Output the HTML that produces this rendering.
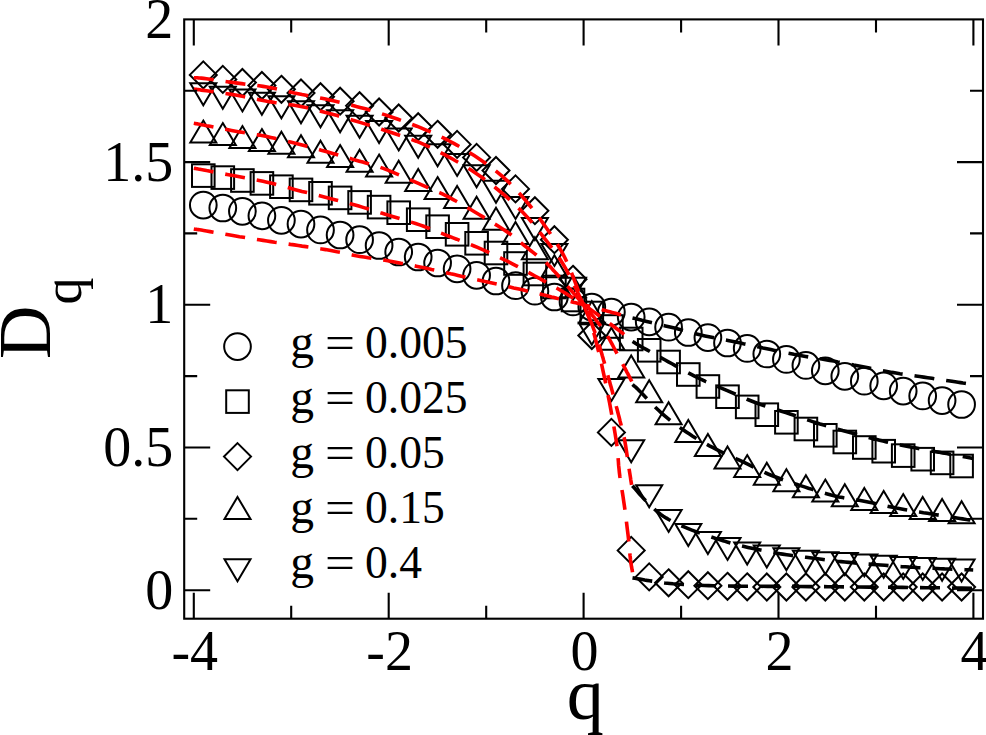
<!DOCTYPE html>
<html><head><meta charset="utf-8"><style>html,body{margin:0;padding:0;background:#fff;overflow:hidden}svg{display:block}</style></head><body>
<svg width="986" height="735" viewBox="0 0 986 735">
<rect width="986" height="735" fill="#fff"/>
<g fill="none" stroke="#000" stroke-width="2.0" stroke-linejoin="miter">
<circle cx="203.3" cy="205.1" r="13.35"/>
<circle cx="222.8" cy="208.0" r="13.35"/>
<circle cx="242.4" cy="211.3" r="13.35"/>
<circle cx="261.9" cy="215.8" r="13.35"/>
<circle cx="281.4" cy="220.3" r="13.35"/>
<circle cx="301.0" cy="224.1" r="13.35"/>
<circle cx="320.5" cy="229.9" r="13.35"/>
<circle cx="340.1" cy="235.0" r="13.35"/>
<circle cx="359.6" cy="239.7" r="13.35"/>
<circle cx="379.1" cy="245.5" r="13.35"/>
<circle cx="398.7" cy="252.0" r="13.35"/>
<circle cx="418.2" cy="257.0" r="13.35"/>
<circle cx="437.6" cy="263.0" r="13.35"/>
<circle cx="457.1" cy="268.8" r="13.35"/>
<circle cx="476.6" cy="275.3" r="13.35"/>
<circle cx="496.0" cy="281.0" r="13.35"/>
<circle cx="515.5" cy="285.7" r="13.35"/>
<circle cx="534.9" cy="291.2" r="13.35"/>
<circle cx="554.4" cy="297.0" r="13.35"/>
<circle cx="573.0" cy="301.9" r="13.35"/>
<circle cx="591.8" cy="307.0" r="13.35"/>
<circle cx="611.4" cy="312.1" r="13.35"/>
<circle cx="631.2" cy="317.1" r="13.35"/>
<circle cx="649.2" cy="321.8" r="13.35"/>
<circle cx="668.6" cy="327.2" r="13.35"/>
<circle cx="688.3" cy="332.5" r="13.35"/>
<circle cx="707.9" cy="337.6" r="13.35"/>
<circle cx="727.5" cy="343.0" r="13.35"/>
<circle cx="747.2" cy="348.4" r="13.35"/>
<circle cx="766.8" cy="354.0" r="13.35"/>
<circle cx="786.4" cy="359.4" r="13.35"/>
<circle cx="805.9" cy="365.4" r="13.35"/>
<circle cx="825.3" cy="370.8" r="13.35"/>
<circle cx="844.8" cy="376.3" r="13.35"/>
<circle cx="864.3" cy="381.2" r="13.35"/>
<circle cx="883.7" cy="385.8" r="13.35"/>
<circle cx="903.2" cy="391.1" r="13.35"/>
<circle cx="922.7" cy="395.9" r="13.35"/>
<circle cx="942.1" cy="400.6" r="13.35"/>
<circle cx="961.6" cy="404.5" r="13.35"/>
<rect x="192.0" y="164.3" width="22.6" height="22.6"/>
<rect x="211.5" y="166.3" width="22.6" height="22.6"/>
<rect x="231.1" y="169.2" width="22.6" height="22.6"/>
<rect x="250.6" y="172.1" width="22.6" height="22.6"/>
<rect x="270.1" y="175.4" width="22.6" height="22.6"/>
<rect x="289.7" y="178.6" width="22.6" height="22.6"/>
<rect x="309.2" y="182.0" width="22.6" height="22.6"/>
<rect x="328.8" y="186.6" width="22.6" height="22.6"/>
<rect x="348.3" y="191.1" width="22.6" height="22.6"/>
<rect x="367.8" y="195.8" width="22.6" height="22.6"/>
<rect x="387.4" y="201.4" width="22.6" height="22.6"/>
<rect x="406.9" y="208.4" width="22.6" height="22.6"/>
<rect x="426.3" y="215.4" width="22.6" height="22.6"/>
<rect x="445.8" y="223.0" width="22.6" height="22.6"/>
<rect x="465.3" y="232.0" width="22.6" height="22.6"/>
<rect x="484.7" y="241.7" width="22.6" height="22.6"/>
<rect x="504.2" y="252.2" width="22.6" height="22.6"/>
<rect x="523.6" y="262.7" width="22.6" height="22.6"/>
<rect x="543.1" y="275.7" width="22.6" height="22.6"/>
<rect x="561.7" y="288.7" width="22.6" height="22.6"/>
<rect x="580.5" y="301.7" width="22.6" height="22.6"/>
<rect x="600.1" y="315.2" width="22.6" height="22.6"/>
<rect x="619.9" y="327.7" width="22.6" height="22.6"/>
<rect x="637.9" y="339.0" width="22.6" height="22.6"/>
<rect x="657.3" y="350.7" width="22.6" height="22.6"/>
<rect x="677.0" y="363.2" width="22.6" height="22.6"/>
<rect x="696.6" y="375.2" width="22.6" height="22.6"/>
<rect x="716.2" y="385.4" width="22.6" height="22.6"/>
<rect x="735.9" y="395.6" width="22.6" height="22.6"/>
<rect x="755.5" y="403.4" width="22.6" height="22.6"/>
<rect x="775.1" y="411.0" width="22.6" height="22.6"/>
<rect x="794.6" y="417.7" width="22.6" height="22.6"/>
<rect x="814.0" y="424.0" width="22.6" height="22.6"/>
<rect x="833.5" y="430.7" width="22.6" height="22.6"/>
<rect x="853.0" y="436.2" width="22.6" height="22.6"/>
<rect x="872.4" y="439.9" width="22.6" height="22.6"/>
<rect x="891.9" y="444.3" width="22.6" height="22.6"/>
<rect x="911.4" y="447.9" width="22.6" height="22.6"/>
<rect x="930.8" y="451.6" width="22.6" height="22.6"/>
<rect x="950.3" y="454.7" width="22.6" height="22.6"/>
<path d="M203.3 61.4L216.8 74.9L203.3 88.4L189.8 74.9Z"/>
<path d="M222.8 65.9L236.3 79.4L222.8 92.9L209.3 79.4Z"/>
<path d="M242.4 69.0L255.9 82.5L242.4 96.0L228.9 82.5Z"/>
<path d="M261.9 72.0L275.4 85.5L261.9 99.0L248.4 85.5Z"/>
<path d="M281.4 75.8L294.9 89.3L281.4 102.8L267.9 89.3Z"/>
<path d="M301.0 79.5L314.5 93.0L301.0 106.5L287.5 93.0Z"/>
<path d="M320.5 83.2L334.0 96.7L320.5 110.2L307.0 96.7Z"/>
<path d="M340.1 87.7L353.6 101.2L340.1 114.7L326.6 101.2Z"/>
<path d="M359.6 92.2L373.1 105.7L359.6 119.2L346.1 105.7Z"/>
<path d="M379.1 98.5L392.6 112.0L379.1 125.5L365.6 112.0Z"/>
<path d="M398.7 104.5L412.2 118.0L398.7 131.5L385.2 118.0Z"/>
<path d="M418.2 113.2L431.7 126.7L418.2 140.2L404.7 126.7Z"/>
<path d="M437.6 120.8L451.1 134.3L437.6 147.8L424.1 134.3Z"/>
<path d="M457.1 130.9L470.6 144.4L457.1 157.9L443.6 144.4Z"/>
<path d="M476.6 143.9L490.1 157.4L476.6 170.9L463.1 157.4Z"/>
<path d="M496.0 157.0L509.5 170.5L496.0 184.0L482.5 170.5Z"/>
<path d="M515.5 175.4L529.0 188.9L515.5 202.4L502.0 188.9Z"/>
<path d="M534.9 197.2L548.4 210.7L534.9 224.2L521.4 210.7Z"/>
<path d="M554.4 226.2L567.9 239.7L554.4 253.2L540.9 239.7Z"/>
<path d="M573.0 265.8L586.5 279.3L573.0 292.8L559.5 279.3Z"/>
<path d="M591.8 322.0L605.3 335.5L591.8 349.0L578.3 335.5Z"/>
<path d="M611.4 418.9L624.9 432.4L611.4 445.9L597.9 432.4Z"/>
<path d="M631.2 536.9L644.7 550.4L631.2 563.9L617.7 550.4Z"/>
<path d="M649.2 563.4L662.7 576.9L649.2 590.4L635.7 576.9Z"/>
<path d="M668.6 569.3L682.1 582.8L668.6 596.3L655.1 582.8Z"/>
<path d="M688.3 571.2L701.8 584.7L688.3 598.2L674.8 584.7Z"/>
<path d="M707.9 572.2L721.4 585.7L707.9 599.2L694.4 585.7Z"/>
<path d="M727.5 572.8L741.0 586.3L727.5 599.8L714.0 586.3Z"/>
<path d="M747.2 573.3L760.7 586.8L747.2 600.3L733.7 586.8Z"/>
<path d="M766.8 573.5L780.3 587.0L766.8 600.5L753.3 587.0Z"/>
<path d="M786.4 573.5L799.9 587.0L786.4 600.5L772.9 587.0Z"/>
<path d="M805.9 573.5L819.4 587.0L805.9 600.5L792.4 587.0Z"/>
<path d="M825.3 573.5L838.8 587.0L825.3 600.5L811.8 587.0Z"/>
<path d="M844.8 573.5L858.3 587.0L844.8 600.5L831.3 587.0Z"/>
<path d="M864.3 573.5L877.8 587.0L864.3 600.5L850.8 587.0Z"/>
<path d="M883.7 573.5L897.2 587.0L883.7 600.5L870.2 587.0Z"/>
<path d="M903.2 573.5L916.7 587.0L903.2 600.5L889.7 587.0Z"/>
<path d="M922.7 573.5L936.2 587.0L922.7 600.5L909.2 587.0Z"/>
<path d="M942.1 573.5L955.6 587.0L942.1 600.5L928.6 587.0Z"/>
<path d="M961.6 573.5L975.1 587.0L961.6 600.5L948.1 587.0Z"/>
<path d="M203.3 120.6L216.3 142.6L190.3 142.6Z"/>
<path d="M222.8 123.1L235.8 145.1L209.8 145.1Z"/>
<path d="M242.4 126.1L255.4 148.1L229.4 148.1Z"/>
<path d="M261.9 129.1L274.9 151.1L248.9 151.1Z"/>
<path d="M281.4 131.8L294.4 153.8L268.4 153.8Z"/>
<path d="M301.0 135.2L314.0 157.2L288.0 157.2Z"/>
<path d="M320.5 140.7L333.5 162.7L307.5 162.7Z"/>
<path d="M340.1 145.1L353.1 167.1L327.1 167.1Z"/>
<path d="M359.6 149.8L372.6 171.8L346.6 171.8Z"/>
<path d="M379.1 154.6L392.1 176.6L366.1 176.6Z"/>
<path d="M398.7 160.8L411.7 182.8L385.7 182.8Z"/>
<path d="M418.2 168.9L431.2 190.9L405.2 190.9Z"/>
<path d="M437.6 177.1L450.6 199.1L424.6 199.1Z"/>
<path d="M457.1 186.0L470.1 208.0L444.1 208.0Z"/>
<path d="M476.6 196.8L489.6 218.8L463.6 218.8Z"/>
<path d="M496.0 207.8L509.0 229.8L483.0 229.8Z"/>
<path d="M515.5 221.9L528.5 243.9L502.5 243.9Z"/>
<path d="M534.9 237.3L547.9 259.3L521.9 259.3Z"/>
<path d="M554.4 255.3L567.4 277.3L541.4 277.3Z"/>
<path d="M573.0 275.3L586.0 297.3L560.0 297.3Z"/>
<path d="M591.8 301.3L604.8 323.3L578.8 323.3Z"/>
<path d="M611.4 327.8L624.4 349.8L598.4 349.8Z"/>
<path d="M631.2 355.4L644.2 377.4L618.2 377.4Z"/>
<path d="M649.2 380.3L662.2 402.3L636.2 402.3Z"/>
<path d="M668.6 402.2L681.6 424.2L655.6 424.2Z"/>
<path d="M688.3 419.9L701.3 441.9L675.3 441.9Z"/>
<path d="M707.9 433.9L720.9 455.9L694.9 455.9Z"/>
<path d="M727.5 446.5L740.5 468.5L714.5 468.5Z"/>
<path d="M747.2 455.1L760.2 477.1L734.2 477.1Z"/>
<path d="M766.8 462.8L779.8 484.8L753.8 484.8Z"/>
<path d="M786.4 469.3L799.4 491.3L773.4 491.3Z"/>
<path d="M805.9 475.2L818.9 497.2L792.9 497.2Z"/>
<path d="M825.3 479.6L838.3 501.6L812.3 501.6Z"/>
<path d="M844.8 484.3L857.8 506.3L831.8 506.3Z"/>
<path d="M864.3 487.9L877.3 509.9L851.3 509.9Z"/>
<path d="M883.7 490.9L896.7 512.9L870.7 512.9Z"/>
<path d="M903.2 494.1L916.2 516.1L890.2 516.1Z"/>
<path d="M922.7 496.9L935.7 518.9L909.7 518.9Z"/>
<path d="M942.1 499.0L955.1 521.0L929.1 521.0Z"/>
<path d="M961.6 501.3L974.6 523.3L948.6 523.3Z"/>
<path d="M203.3 105.3L216.3 83.3L190.3 83.3Z"/>
<path d="M222.8 108.7L235.8 86.7L209.8 86.7Z"/>
<path d="M242.4 111.4L255.4 89.4L229.4 89.4Z"/>
<path d="M261.9 114.8L274.9 92.8L248.9 92.8Z"/>
<path d="M281.4 118.2L294.4 96.2L268.4 96.2Z"/>
<path d="M301.0 123.2L314.0 101.2L288.0 101.2Z"/>
<path d="M320.5 127.2L333.5 105.2L307.5 105.2Z"/>
<path d="M340.1 132.3L353.1 110.3L327.1 110.3Z"/>
<path d="M359.6 137.7L372.6 115.7L346.6 115.7Z"/>
<path d="M379.1 143.1L392.1 121.1L366.1 121.1Z"/>
<path d="M398.7 150.4L411.7 128.4L385.7 128.4Z"/>
<path d="M418.2 157.7L431.2 135.7L405.2 135.7Z"/>
<path d="M437.6 166.2L450.6 144.2L424.6 144.2Z"/>
<path d="M457.1 175.9L470.1 153.9L444.1 153.9Z"/>
<path d="M476.6 187.2L489.6 165.2L463.6 165.2Z"/>
<path d="M496.0 202.7L509.0 180.7L483.0 180.7Z"/>
<path d="M515.5 218.9L528.5 196.9L502.5 196.9Z"/>
<path d="M534.9 240.0L547.9 218.0L521.9 218.0Z"/>
<path d="M554.4 265.9L567.4 243.9L541.4 243.9Z"/>
<path d="M573.0 299.7L586.0 277.7L560.0 277.7Z"/>
<path d="M591.8 344.7L604.8 322.7L578.8 322.7Z"/>
<path d="M611.4 400.9L624.4 378.9L598.4 378.9Z"/>
<path d="M631.2 462.2L644.2 440.2L618.2 440.2Z"/>
<path d="M649.2 507.2L662.2 485.2L636.2 485.2Z"/>
<path d="M668.6 531.9L681.6 509.9L655.6 509.9Z"/>
<path d="M688.3 546.0L701.3 524.0L675.3 524.0Z"/>
<path d="M707.9 554.1L720.9 532.1L694.9 532.1Z"/>
<path d="M727.5 559.9L740.5 537.9L714.5 537.9Z"/>
<path d="M747.2 564.6L760.2 542.6L734.2 542.6Z"/>
<path d="M766.8 567.5L779.8 545.5L753.8 545.5Z"/>
<path d="M786.4 570.3L799.4 548.3L773.4 548.3Z"/>
<path d="M805.9 572.8L818.9 550.8L792.9 550.8Z"/>
<path d="M825.3 574.2L838.3 552.2L812.3 552.2Z"/>
<path d="M844.8 575.1L857.8 553.1L831.8 553.1Z"/>
<path d="M864.3 576.4L877.3 554.4L851.3 554.4Z"/>
<path d="M883.7 577.7L896.7 555.7L870.7 555.7Z"/>
<path d="M903.2 578.9L916.2 556.9L890.2 556.9Z"/>
<path d="M922.7 579.9L935.7 557.9L909.7 557.9Z"/>
<path d="M942.1 580.8L955.1 558.8L929.1 558.8Z"/>
<path d="M961.6 581.5L974.6 559.5L948.6 559.5Z"/>
</g>
<g fill="none" stroke-width="3.6" stroke-dasharray="20 12">
<polyline stroke="#f00" points="193.8,229.0 194.9,229.2 195.7,229.3 196.5,229.4 197.3,229.5 198.3,229.6 199.6,229.8 201.3,230.1 203.6,230.5 206.5,231.0 210.1,231.6 214.0,232.3 218.3,233.0 222.7,233.8 227.1,234.6 231.5,235.3 235.6,236.0 239.5,236.7 243.5,237.3 247.4,237.9 251.3,238.6 255.2,239.2 259.1,239.8 263.0,240.4 266.9,241.0 270.8,241.6 274.7,242.2 278.6,242.7 282.5,243.3 286.5,243.8 290.4,244.4 294.3,244.9 298.2,245.5 302.1,246.1 306.0,246.6 310.0,247.2 313.9,247.8 317.8,248.4 321.7,249.0 325.6,249.6 329.5,250.3 333.3,251.0 337.1,251.8 340.9,252.5 344.6,253.3 348.4,254.1 352.2,254.9 356.1,255.7 360.0,256.4 364.0,257.1 368.2,257.8 372.4,258.4 376.6,259.1 380.8,259.7 385.0,260.3 389.2,261.0 393.2,261.7 397.1,262.4 401.0,263.2 404.9,263.9 408.7,264.7 412.4,265.4 416.2,266.2 420.0,267.0 423.8,267.8 427.6,268.6 431.5,269.5 435.4,270.3 439.3,271.2 443.2,272.1 447.0,272.9 450.7,273.8 454.4,274.6 458.0,275.4 461.4,276.2 464.8,276.9 468.1,277.7 471.5,278.4 474.8,279.2 478.2,279.9 481.6,280.7 485.1,281.5 488.6,282.2 492.1,283.0 495.6,283.8 499.2,284.6 502.8,285.4 506.4,286.2 510.0,287.0 513.7,287.9 517.6,288.7 521.5,289.6 525.4,290.6 529.3,291.5 533.0,292.3 536.6,293.2 540.0,294.0 543.1,294.8 546.1,295.5 548.9,296.2 551.5,296.9 554.1,297.5 556.7,298.2 559.3,298.8 562.0,299.5 564.7,300.2 567.5,300.8 570.2,301.5 573.0,302.2 575.7,302.8 578.4,303.5 581.0,304.1 583.6,304.8 586.1,305.5 588.6,306.1 591.1,306.8 593.5,307.4 595.9,308.1 598.3,308.7 600.7,309.4 603.0,310.0 605.3,310.6 607.6,311.2 609.9,311.8 612.1,312.4 614.3,313.0 616.5,313.6 618.8,314.2 621.0,314.8"/>
<polyline stroke="#f00" points="193.8,168.2 194.9,168.4 195.7,168.5 196.5,168.7 197.3,168.8 198.3,169.0 199.6,169.2 201.3,169.6 203.6,170.0 206.5,170.6 210.1,171.2 214.0,172.0 218.3,172.8 222.7,173.6 227.1,174.5 231.5,175.3 235.6,176.1 239.5,176.8 243.5,177.6 247.4,178.3 251.3,179.0 255.2,179.8 259.1,180.5 263.0,181.3 266.9,182.2 270.8,183.1 274.8,184.1 278.7,185.2 282.6,186.2 286.6,187.3 290.5,188.3 294.4,189.4 298.2,190.4 302.0,191.4 305.8,192.3 309.5,193.2 313.2,194.2 316.9,195.1 320.6,196.0 324.3,196.9 328.1,197.9 331.9,198.9 335.8,199.9 339.7,200.9 343.6,202.0 347.5,203.0 351.3,204.0 355.1,205.1 358.7,206.1 362.2,207.1 365.4,208.1 368.6,209.0 371.7,210.0 374.9,211.0 378.1,212.0 381.5,213.1 385.2,214.2 389.2,215.4 393.4,216.7 397.8,218.0 402.2,219.3 406.7,220.7 411.2,222.1 415.6,223.5 419.7,224.9 423.7,226.3 427.5,227.8 431.3,229.2 435.1,230.7 438.7,232.2 442.4,233.6 446.0,235.1 449.6,236.5 453.2,237.9 456.7,239.2 460.2,240.6 463.7,241.9 467.2,243.2 470.6,244.6 474.0,246.0 477.5,247.4 480.9,248.9 484.3,250.4 487.7,251.9 491.1,253.4 494.5,255.0 498.0,256.6 501.4,258.3 505.0,260.0 508.7,261.9 512.4,263.8 516.3,265.8 520.2,267.9 524.0,270.0 527.8,272.1 531.5,274.1 535.0,276.0 538.4,277.8 541.6,279.6 544.8,281.4 547.9,283.1 550.9,284.8 554.0,286.5 557.0,288.2 560.0,290.0 563.0,291.8 566.1,293.6 569.0,295.5 572.0,297.3 575.0,299.2 577.9,301.1 580.8,302.9 583.6,304.8 586.4,306.7 589.2,308.6 591.9,310.5 594.6,312.4 597.2,314.3 599.9,316.2 602.4,318.1 605.0,320.0 607.5,321.8 610.0,323.7 612.4,325.5 614.7,327.2 617.1,329.0 619.5,330.8 621.8,332.6 624.2,334.4"/>
<polyline stroke="#f00" points="193.8,77.7 194.9,77.8 195.7,77.8 196.5,77.8 197.3,77.8 198.3,77.9 199.6,78.0 201.3,78.1 203.6,78.4 206.5,78.8 210.1,79.3 214.0,79.8 218.3,80.4 222.7,81.1 227.1,81.7 231.5,82.3 235.6,82.9 239.5,83.4 243.5,83.9 247.4,84.3 251.3,84.8 255.2,85.3 259.1,85.8 263.0,86.4 266.9,87.0 270.8,87.7 274.7,88.5 278.6,89.4 282.5,90.3 286.5,91.2 290.4,92.1 294.3,93.0 298.2,93.8 302.1,94.6 306.0,95.3 310.0,96.1 313.9,96.8 317.8,97.5 321.7,98.3 325.6,99.1 329.5,99.9 333.4,100.8 337.3,101.7 341.2,102.6 345.1,103.6 349.0,104.5 352.8,105.5 356.4,106.5 360.0,107.4 363.3,108.3 366.4,109.1 369.4,110.0 372.3,110.8 375.2,111.7 378.3,112.6 381.6,113.7 385.2,114.9 389.2,116.3 393.6,117.7 398.1,119.3 402.8,121.0 407.6,122.7 412.3,124.5 416.8,126.2 421.0,127.9 425.0,129.6 428.8,131.2 432.6,132.8 436.2,134.5 439.8,136.2 443.3,137.9 446.8,139.7 450.3,141.5 453.8,143.4 457.3,145.3 460.7,147.3 464.2,149.3 467.5,151.4 470.9,153.5 474.2,155.6 477.5,157.8 480.8,160.0 484.0,162.2 487.2,164.5 490.4,166.8 493.5,169.2 496.6,171.6 499.7,174.1 502.7,176.7 505.7,179.4 508.6,182.1 511.4,185.0 514.2,187.9 517.0,190.8 519.8,193.8 522.4,196.8 525.1,199.9 527.7,203.0 530.2,206.0 532.7,209.1 535.1,212.2 537.5,215.4 539.9,218.7 542.3,222.1 544.8,225.7 547.3,229.3 549.9,233.0 552.4,236.7 555.0,240.5 557.5,244.5 560.1,248.8 562.5,253.2 565.0,258.0 567.5,263.3 570.0,269.2 572.5,275.4 575.0,281.8 577.4,288.2 579.6,294.3 581.7,299.9 583.6,304.8 585.2,308.8 586.5,312.0 587.7,314.7 588.7,317.2 589.7,319.7 590.7,322.5 591.8,325.8 593.0,330.0 594.4,335.0 595.8,340.5 597.3,346.5 598.9,352.8 600.5,359.4 602.0,366.2 603.5,373.1 605.0,380.0 606.5,387.2 608.0,394.9 609.6,403.0 611.1,411.1 612.5,419.1 613.9,426.7 615.1,433.7 616.1,440.0 616.9,445.4 617.4,450.1 617.8,454.3 618.1,458.1 618.4,461.6 618.6,465.2 619.0,468.8 619.4,472.7 619.9,476.8 620.5,480.9 621.2,484.9 621.8,489.0 622.5,493.1 623.1,497.1 623.7,501.2 624.3,505.3 624.9,509.5 625.4,513.7 626.0,518.0 626.5,522.3 627.0,526.5 627.5,530.6 628.0,534.4 628.4,538.0 628.8,541.3 629.1,544.5 629.3,547.5 629.6,550.3 629.8,552.9 630.0,555.4 630.3,557.8 630.5,560.0 630.8,562.0 631.0,563.7 631.3,565.3 631.5,566.7 631.8,568.1 632.0,569.4 632.3,570.7 632.5,572.2"/>
<polyline stroke="#f00" points="193.8,123.3 194.9,123.5 195.7,123.6 196.5,123.8 197.3,123.9 198.3,124.1 199.6,124.3 201.3,124.7 203.6,125.1 206.5,125.7 210.1,126.3 214.0,127.1 218.3,127.9 222.7,128.8 227.1,129.6 231.5,130.4 235.6,131.2 239.5,131.9 243.5,132.5 247.4,133.2 251.3,133.8 255.2,134.5 259.1,135.1 263.0,135.8 266.9,136.6 270.8,137.4 274.7,138.3 278.7,139.2 282.6,140.2 286.5,141.1 290.4,142.1 294.3,143.1 298.2,144.1 302.1,145.1 305.9,146.1 309.7,147.1 313.5,148.1 317.4,149.1 321.2,150.2 325.0,151.2 328.8,152.3 332.7,153.4 336.6,154.5 340.5,155.7 344.5,156.8 348.4,157.9 352.2,159.1 355.9,160.2 359.4,161.2 362.7,162.1 365.7,163.0 368.6,163.7 371.4,164.5 374.2,165.3 377.2,166.2 380.4,167.3 383.9,168.6 387.8,170.1 392.1,171.9 396.6,173.8 401.3,175.8 406.0,177.9 410.5,179.9 414.9,181.9 419.0,183.7 422.8,185.3 426.3,186.9 429.7,188.3 433.0,189.7 436.2,191.2 439.5,192.6 442.8,194.2 446.2,195.9 449.7,197.7 453.2,199.6 456.8,201.5 460.3,203.6 463.9,205.6 467.5,207.7 471.1,209.8 474.8,212.0 478.6,214.2 482.6,216.6 486.7,219.1 490.8,221.5 494.7,224.0 498.5,226.3 501.9,228.5 505.0,230.5 507.6,232.3 509.8,233.8 511.7,235.3 513.4,236.6 514.9,237.9 516.5,239.2 518.2,240.5 520.0,242.0 522.0,243.6 524.1,245.3 526.3,247.0 528.5,248.7 530.6,250.5 532.7,252.1 534.6,253.6 536.3,255.0 537.8,256.2 539.1,257.1 540.3,258.0 541.4,258.7 542.5,259.5 543.6,260.4 544.8,261.4 546.1,262.6 547.5,264.0 548.9,265.4 550.3,266.8 551.7,268.4 553.3,270.2 555.1,272.1 557.0,274.3 559.2,276.8 561.8,279.7 564.8,283.1 568.0,286.9 571.4,290.7 574.8,294.6 578.1,298.4 581.0,301.8 583.6,304.8 585.7,307.3 587.6,309.5 589.2,311.4 590.6,313.2 591.9,314.8 593.2,316.4 594.6,318.1 596.0,320.0 597.5,322.0 599.0,323.9 600.5,325.9 602.0,327.9 603.4,329.9 604.8,331.9 606.2,334.0 607.5,336.0 608.7,338.1 609.9,340.1 611.1,342.3 612.2,344.4 613.3,346.5 614.3,348.5 615.4,350.6 616.4,352.5 617.4,354.4 618.4,356.2 619.3,357.9 620.3,359.6 621.2,361.3 622.1,363.0 623.0,364.7 624.0,366.5 625.0,368.3 625.9,370.2 626.9,372.1 627.9,373.9 628.9,375.8 629.8,377.7 630.8,379.6 631.8,381.5"/>
<polyline stroke="#f00" points="193.8,89.0 194.9,89.2 195.7,89.3 196.5,89.4 197.3,89.5 198.3,89.6 199.6,89.8 201.3,90.1 203.6,90.4 206.5,90.8 210.1,91.3 214.0,91.9 218.3,92.5 222.7,93.1 227.1,93.7 231.5,94.4 235.6,95.1 239.5,95.8 243.5,96.6 247.4,97.4 251.3,98.2 255.2,99.0 259.1,99.8 263.0,100.6 266.9,101.3 270.8,101.9 274.7,102.5 278.6,103.0 282.5,103.6 286.5,104.1 290.4,104.7 294.3,105.3 298.2,106.0 302.1,106.8 306.0,107.6 310.0,108.5 313.9,109.5 317.8,110.5 321.7,111.5 325.6,112.5 329.5,113.5 333.4,114.6 337.3,115.6 341.2,116.8 345.1,117.9 349.0,119.1 352.8,120.2 356.4,121.3 360.0,122.4 363.3,123.4 366.4,124.4 369.4,125.3 372.3,126.2 375.3,127.2 378.3,128.2 381.6,129.3 385.2,130.5 389.2,131.8 393.5,133.3 398.0,134.8 402.6,136.3 407.2,137.9 411.8,139.6 416.2,141.2 420.4,142.9 424.3,144.6 428.0,146.3 431.7,148.0 435.2,149.8 438.7,151.5 442.1,153.4 445.5,155.2 449.0,157.1 452.5,159.0 455.9,161.0 459.4,162.9 462.8,165.0 466.2,167.0 469.5,169.1 472.9,171.3 476.2,173.5 479.5,175.8 482.8,178.1 486.1,180.5 489.4,183.0 492.6,185.5 495.8,188.0 498.9,190.5 502.0,193.1 505.1,195.7 508.1,198.4 511.1,201.1 514.1,203.9 517.0,206.7 519.8,209.4 522.5,212.1 525.1,214.8 527.5,217.4 529.7,219.8 531.8,222.2 533.7,224.6 535.7,227.0 537.7,229.5 539.8,232.3 542.1,235.2 544.5,238.3 547.1,241.5 549.7,244.9 552.3,248.3 555.0,252.0 557.7,255.8 560.4,259.8 563.0,264.0 565.7,268.7 568.5,273.9 571.3,279.5 574.1,285.1 576.9,290.7 579.4,296.0 581.7,300.7 583.6,304.8 585.2,308.1 586.4,310.7 587.4,312.9 588.2,314.8 588.9,316.5 589.5,318.2 590.2,320.0 591.0,322.0 591.9,324.2 592.7,326.4 593.5,328.7 594.4,330.9 595.2,333.2 596.0,335.5 596.7,337.7 597.5,340.0 598.2,342.2 599.0,344.5 599.7,346.8 600.3,349.0 601.0,351.2 601.7,353.5 602.3,355.8 603.0,358.0 603.6,360.2 604.3,362.5 604.9,364.8 605.5,367.0 606.1,369.2 606.8,371.5 607.4,373.8 608.0,376.0 608.6,378.3 609.3,380.5 609.9,382.8 610.5,385.1 611.2,387.3 611.8,389.6 612.4,391.8 613.0,394.0 613.6,396.2 614.2,398.4 614.8,400.5 615.3,402.7 615.9,404.8 616.4,406.9 617.0,409.0 617.5,411.0 618.0,413.0 618.5,414.9 619.0,416.8 619.5,418.7 619.9,420.5 620.4,422.4 620.9,424.2 621.3,426.0 621.7,427.7 622.1,429.3 622.5,430.8 622.9,432.4 623.3,434.0 623.7,435.8 624.2,437.7 624.6,440.0 625.1,442.6 625.6,445.6 626.1,448.8 626.6,452.1 627.1,455.5 627.6,458.9 628.0,462.0 628.5,465.0 628.9,467.7 629.3,470.3 629.7,472.8 630.1,475.3 630.5,477.7 630.8,480.0 631.2,482.4 631.6,484.9"/>
<polyline stroke="#000" points="632.5,318.0 637.2,319.1 641.9,320.3 646.7,321.4 651.4,322.5 656.1,323.6 660.8,324.8 665.4,325.9 670.0,327.0 674.5,328.1 679.0,329.3 683.5,330.5 687.9,331.6 692.3,332.8 696.6,333.9 700.9,334.9 705.0,335.9 709.0,336.8 712.9,337.6 716.8,338.4 720.5,339.1 724.3,339.8 728.0,340.5 731.8,341.2 735.6,342.0 739.5,342.8 743.4,343.7 747.3,344.5 751.2,345.4 755.2,346.3 759.1,347.1 763.0,348.0 766.9,348.8 770.8,349.6 774.6,350.4 778.4,351.2 782.3,352.0 786.1,352.8 789.9,353.5 793.8,354.3 797.7,355.0 801.6,355.7 805.6,356.4 809.6,357.1 813.6,357.7 817.7,358.4 821.7,359.0 825.7,359.7 829.7,360.4 833.7,361.1 837.7,361.9 841.7,362.6 845.7,363.4 849.7,364.2 853.7,365.0 857.7,365.7 861.6,366.5 865.5,367.3 869.3,368.0 873.1,368.8 876.9,369.5 880.6,370.3 884.4,371.0 888.2,371.7 892.1,372.4 896.0,373.0 899.9,373.7 903.9,374.3 907.8,374.8 911.8,375.4 915.8,376.0 919.7,376.5 923.7,377.1 927.7,377.7 931.9,378.3 936.1,379.0 940.3,379.6 944.4,380.2 948.3,380.8 951.9,381.3 955.2,381.8 958.1,382.2 960.6,382.6 962.9,383.0 965.0,383.3 967.0,383.6 969.0,383.9 971.0,384.2 973.2,384.5"/>
<polyline stroke="#000" points="632.5,341.5 633.4,342.0 634.1,342.4 634.7,342.8 635.3,343.2 636.1,343.7 637.2,344.3 638.6,345.2 640.6,346.3 643.1,347.7 646.1,349.4 649.5,351.3 653.1,353.3 657.0,355.5 660.8,357.6 664.7,359.8 668.4,361.8 672.0,363.8 675.7,365.9 679.5,368.0 683.3,370.1 687.0,372.2 690.8,374.2 694.5,376.2 698.2,378.0 701.8,379.7 705.4,381.4 709.0,382.9 712.5,384.4 716.1,385.9 719.6,387.3 723.1,388.8 726.7,390.3 730.2,391.8 733.7,393.4 737.1,394.9 740.6,396.5 744.1,398.0 747.7,399.5 751.4,401.0 755.3,402.5 759.4,404.0 763.7,405.5 768.1,406.9 772.6,408.4 777.1,409.8 781.5,411.2 785.8,412.6 790.0,414.0 794.0,415.3 797.8,416.6 801.6,417.9 805.3,419.2 809.0,420.4 812.6,421.6 816.3,422.8 820.0,424.0 823.8,425.1 827.5,426.2 831.3,427.3 835.0,428.4 838.8,429.4 842.5,430.5 846.3,431.5 850.0,432.5 853.7,433.5 857.4,434.5 861.1,435.5 864.9,436.5 868.5,437.5 872.2,438.4 875.9,439.3 879.5,440.2 883.1,441.1 886.5,441.9 890.0,442.7 893.4,443.4 896.8,444.2 900.4,445.0 904.1,445.7 907.9,446.5 912.0,447.3 916.2,448.1 920.6,448.9 925.1,449.7 929.6,450.6 934.1,451.4 938.4,452.1 942.6,452.9 946.6,453.6 950.5,454.4 954.4,455.1 958.2,455.8 961.9,456.4 965.6,457.1 969.4,457.8 973.2,458.5"/>
<polyline stroke="#000" points="632.5,577.9 634.9,578.3 637.4,578.7 639.8,579.1 642.3,579.5 644.7,580.0 647.1,580.4 649.5,580.7 651.9,581.1 654.1,581.4 656.2,581.8 658.3,582.1 660.3,582.4 662.4,582.7 664.7,583.0 667.2,583.2 670.0,583.5 673.1,583.8 676.4,584.0 679.9,584.3 683.6,584.5 687.5,584.7 691.5,584.9 695.7,585.1 700.0,585.3 704.4,585.5 708.8,585.6 713.4,585.7 718.1,585.8 723.1,585.9 728.4,586.0 734.0,586.1 740.0,586.2 746.4,586.3 753.1,586.3 760.2,586.3 767.5,586.4 775.2,586.4 783.1,586.4 791.4,586.4 800.0,586.5 809.0,586.6 818.3,586.6 828.0,586.7 837.9,586.8 848.2,586.9 858.6,587.0 869.2,587.1 880.0,587.2 891.0,587.3 902.4,587.4 914.0,587.6 925.8,587.7 937.7,587.8 949.6,587.9 961.5,588.1 973.2,588.2"/>
<polyline stroke="#000" points="632.5,384.5 633.2,385.1 633.7,385.6 634.2,386.0 634.7,386.4 635.4,386.9 636.2,387.7 637.4,388.8 639.0,390.4 641.1,392.5 643.5,395.0 646.3,397.9 649.3,401.0 652.4,404.3 655.6,407.5 658.8,410.5 661.8,413.3 664.8,415.9 667.8,418.3 670.8,420.8 673.8,423.1 676.9,425.4 680.0,427.6 683.1,429.8 686.3,432.0 689.5,434.1 692.7,436.2 696.0,438.2 699.3,440.1 702.6,442.0 706.1,443.9 709.5,445.8 713.1,447.7 716.8,449.6 720.6,451.5 724.6,453.4 728.5,455.2 732.5,457.0 736.5,458.9 740.4,460.6 744.1,462.4 747.7,464.1 751.1,465.8 754.5,467.5 757.8,469.2 761.2,470.8 764.6,472.4 768.1,474.0 771.8,475.5 775.7,477.0 779.7,478.5 783.8,480.0 788.0,481.4 792.2,482.9 796.4,484.3 800.5,485.6 804.5,486.9 808.4,488.2 812.3,489.4 816.1,490.6 819.9,491.8 823.7,493.0 827.4,494.0 831.2,495.1 835.0,496.0 838.8,496.9 842.6,497.6 846.4,498.3 850.2,498.9 854.0,499.5 857.8,500.1 861.6,500.8 865.4,501.5 869.2,502.3 873.1,503.1 877.0,503.9 880.9,504.8 884.7,505.6 888.6,506.4 892.5,507.2 896.4,508.0 900.3,508.7 904.1,509.4 908.0,510.1 911.8,510.7 915.7,511.4 919.5,512.0 923.4,512.7 927.4,513.3 931.5,514.0 935.9,514.7 940.4,515.4 944.8,516.1 949.1,516.8 953.2,517.4 956.8,518.0 960.0,518.5 962.6,518.9 964.7,519.2 966.4,519.5 967.8,519.7 969.1,519.9 970.4,520.1 971.7,520.3 973.2,520.5"/>
<polyline stroke="#000" points="632.4,485.7 634.0,487.5 635.6,489.3 637.1,491.2 638.7,493.0 640.2,494.8 641.9,496.6 643.6,498.5 645.5,500.4 647.5,502.3 649.5,504.4 651.5,506.4 653.7,508.5 655.9,510.5 658.3,512.5 660.7,514.4 663.3,516.2 666.0,517.9 668.7,519.5 671.6,521.1 674.5,522.6 677.6,524.0 680.8,525.5 684.1,526.9 687.6,528.4 691.3,529.9 695.3,531.4 699.4,532.9 703.6,534.4 707.9,535.8 712.1,537.2 716.2,538.6 720.1,539.8 723.8,540.9 727.2,542.0 730.6,543.0 733.9,543.9 737.2,544.8 740.7,545.7 744.2,546.5 748.0,547.4 752.0,548.3 756.3,549.2 760.6,550.1 765.1,551.0 769.6,551.8 774.0,552.6 778.4,553.4 782.6,554.1 786.7,554.7 790.6,555.3 794.5,555.9 798.4,556.4 802.2,556.9 806.1,557.3 809.9,557.8 813.8,558.3 817.7,558.8 821.6,559.3 825.5,559.8 829.4,560.2 833.3,560.7 837.2,561.2 841.1,561.6 845.0,562.0 848.9,562.4 852.9,562.8 856.8,563.1 860.8,563.4 864.8,563.8 868.8,564.1 872.8,564.4 876.8,564.7 880.8,565.0 884.9,565.3 889.0,565.7 893.1,566.0 897.2,566.3 901.3,566.6 905.4,566.8 909.4,567.1 913.3,567.3 917.2,567.6 921.1,567.8 924.9,568.0 928.8,568.2 932.6,568.3 936.5,568.5 940.5,568.7 944.5,568.9 948.6,569.0 952.6,569.2 956.8,569.4 960.9,569.5 965.0,569.7 969.1,569.8 973.2,570.0"/>
</g>
<rect x="184.2" y="19.4" width="798.8" height="599.3000000000001" fill="none" stroke="#000" stroke-width="2.1"/>
<path d="M193.8 618.7V592.7M193.8 19.4V45.4M388.7 618.7V592.7M388.7 19.4V45.4M583.6 618.7V592.7M583.6 19.4V45.4M778.5 618.7V592.7M778.5 19.4V45.4M973.4 618.7V592.7M973.4 19.4V45.4M291.2 618.7V605.7M291.2 19.4V32.4M486.2 618.7V605.7M486.2 19.4V32.4M681.1 618.7V605.7M681.1 19.4V32.4M876.0 618.7V605.7M876.0 19.4V32.4M184.2 590.2H210.2M983.0 590.2H957.0M184.2 447.5H210.2M983.0 447.5H957.0M184.2 304.8H210.2M983.0 304.8H957.0M184.2 162.1H210.2M983.0 162.1H957.0M184.2 518.8H197.2M983.0 518.8H970.0M184.2 376.1H197.2M983.0 376.1H970.0M184.2 233.4H197.2M983.0 233.4H970.0M184.2 90.8H197.2M983.0 90.8H970.0" stroke="#000" stroke-width="2.1" fill="none"/>
<text x="173.3" y="38.0" text-anchor="end" font-family="Liberation Serif, serif" font-size="56">2</text>
<text x="173.3" y="180.7" text-anchor="end" font-family="Liberation Serif, serif" font-size="56">1.5</text>
<text x="173.3" y="323.4" text-anchor="end" font-family="Liberation Serif, serif" font-size="56">1</text>
<text x="173.3" y="466.1" text-anchor="end" font-family="Liberation Serif, serif" font-size="56">0.5</text>
<text x="173.3" y="608.8" text-anchor="end" font-family="Liberation Serif, serif" font-size="56">0</text>
<text x="194.8" y="669.5" text-anchor="middle" font-family="Liberation Serif, serif" font-size="56">-4</text>
<text x="389.7" y="669.5" text-anchor="middle" font-family="Liberation Serif, serif" font-size="56">-2</text>
<text x="584.6" y="669.5" text-anchor="middle" font-family="Liberation Serif, serif" font-size="56">0</text>
<text x="779.5" y="669.5" text-anchor="middle" font-family="Liberation Serif, serif" font-size="56">2</text>
<text x="974.4" y="669.5" text-anchor="middle" font-family="Liberation Serif, serif" font-size="56">4</text>
<text transform="translate(49.5,359) rotate(-90)" font-family="Liberation Serif, serif" font-size="74">D</text>
<text transform="translate(80.8,304.5) rotate(-90)" font-family="Liberation Serif, serif" font-size="54">q</text>
<text x="585.3" y="719" text-anchor="middle" font-family="Liberation Serif, serif" font-size="74">q</text>
<g fill="none" stroke="#000" stroke-width="2.0">
<circle cx="237.5" cy="346.6" r="13.35"/>
<rect x="226.2" y="390.3" width="22.6" height="22.6"/>
<path d="M237.5 443.1L251.0 456.6L237.5 470.1L224.0 456.6Z"/>
<path d="M237.5 496.9L250.5 518.9L224.5 518.9Z"/>
<path d="M237.5 581.3L250.5 559.3L224.5 559.3Z"/>
</g>
<text x="290.3" y="357.9" font-family="Liberation Serif, serif" font-size="47.5">g</text>
<text x="325" y="357.9" font-family="Liberation Serif, serif" font-size="47.5" transform="translate(325 0) scale(1.12 1) translate(-325 0)">=</text>
<text x="365" y="357.9" font-family="Liberation Serif, serif" font-size="46.8" transform="translate(365 0) scale(0.975 1) translate(-365 0)">0.005</text>
<text x="290.3" y="412.9" font-family="Liberation Serif, serif" font-size="47.5">g</text>
<text x="325" y="412.9" font-family="Liberation Serif, serif" font-size="47.5" transform="translate(325 0) scale(1.12 1) translate(-325 0)">=</text>
<text x="365" y="412.9" font-family="Liberation Serif, serif" font-size="46.8" transform="translate(365 0) scale(0.975 1) translate(-365 0)">0.025</text>
<text x="290.3" y="467.9" font-family="Liberation Serif, serif" font-size="47.5">g</text>
<text x="325" y="467.9" font-family="Liberation Serif, serif" font-size="47.5" transform="translate(325 0) scale(1.12 1) translate(-325 0)">=</text>
<text x="365" y="467.9" font-family="Liberation Serif, serif" font-size="46.8" transform="translate(365 0) scale(0.975 1) translate(-365 0)">0.05</text>
<text x="290.3" y="522.9" font-family="Liberation Serif, serif" font-size="47.5">g</text>
<text x="325" y="522.9" font-family="Liberation Serif, serif" font-size="47.5" transform="translate(325 0) scale(1.12 1) translate(-325 0)">=</text>
<text x="365" y="522.9" font-family="Liberation Serif, serif" font-size="46.8" transform="translate(365 0) scale(0.975 1) translate(-365 0)">0.15</text>
<text x="290.3" y="577.9" font-family="Liberation Serif, serif" font-size="47.5">g</text>
<text x="325" y="577.9" font-family="Liberation Serif, serif" font-size="47.5" transform="translate(325 0) scale(1.12 1) translate(-325 0)">=</text>
<text x="365" y="577.9" font-family="Liberation Serif, serif" font-size="46.8" transform="translate(365 0) scale(0.975 1) translate(-365 0)">0.4</text>
</svg>
</body></html>
